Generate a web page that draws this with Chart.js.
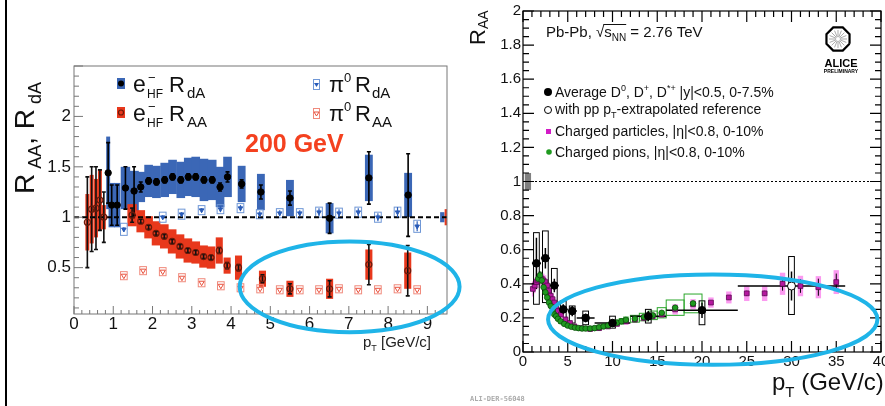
<!DOCTYPE html>
<html><head><meta charset="utf-8">
<script src="https://cdn.jsdelivr.net/npm/chart.js@4.4.0/dist/chart.umd.min.js"></script>
<style>
html,body{margin:0;padding:0;background:#fff;overflow:hidden;width:885px;height:406px}
#left{position:absolute;left:0;top:0}
#right{position:absolute;left:460px;top:0}
</style></head><body>
<canvas id="left" width="462" height="406"></canvas>
<canvas id="right" width="440" height="406"></canvas>
<script>
// ---- left panel: 200 GeV (RHIC) ----
const xTicksL = [0,1,2,3,4,5,6,7,8,9];
const yTicksL = [0.5,1,1.5,2];

// heavy-flavour electrons, d+Au
const eDA_pt   = [0.87,0.96,1.10,1.31,1.53,1.70,1.90,2.10,2.31,2.51,2.72,2.91,3.10,3.31,3.52,3.72,3.91,4.27,4.76,5.50,6.51,7.51,8.51];
const eDA_val  = [1.44,1.12,1.12,1.29,1.26,1.30,1.36,1.35,1.37,1.40,1.37,1.40,1.40,1.37,1.37,1.30,1.40,1.33,1.25,1.19,0.99,1.39,1.22];
const eDA_stat = [0.30,0.20,0.20,0.21,0.24,0.05,0.03,0.03,0.03,0.03,0.03,0.03,0.03,0.03,0.03,0.04,0.05,0.04,0.07,0.07,0.15,0.26,0.41];
const eDA_sys  = [0.36,0.22,0.22,0.21,0.20,0.15,0.16,0.16,0.17,0.17,0.18,0.19,0.20,0.21,0.20,0.20,0.20,0.18,0.18,0.18,0.15,0.23,0.22];
const eDA_hw   = [0.05,0.08,0.08,0.12,0.12,0.11,0.11,0.11,0.11,0.11,0.11,0.11,0.11,0.11,0.11,0.11,0.11,0.10,0.10,0.10,0.10,0.10,0.10];

// heavy-flavour electrons, Au+Au
const eAA_pt   = [0.34,0.45,0.56,0.66,0.76,1.48,1.70,1.90,2.09,2.30,2.50,2.70,2.90,3.10,3.30,3.49,3.70,3.90,4.19,4.80,5.50,6.51,7.51,8.50];
const eAA_val  = [0.95,1.08,1.09,1.17,1.00,1.02,0.96,0.90,0.84,0.81,0.76,0.71,0.67,0.65,0.61,0.60,0.67,0.52,0.50,0.39,0.29,0.29,0.53,0.47];
const eAA_stat = [0.45,0.42,0.41,0.30,0.25,0.07,0.02,0.02,0.02,0.02,0.02,0.02,0.02,0.02,0.02,0.02,0.03,0.03,0.03,0.04,0.05,0.08,0.20,0.25];
const eAA_sys  = [0.28,0.34,0.29,0.30,0.12,0.11,0.11,0.11,0.12,0.12,0.12,0.12,0.12,0.11,0.11,0.11,0.13,0.08,0.12,0.08,0.08,0.10,0.15,0.18];
const eAA_hw   = [0.05,0.05,0.05,0.05,0.05,0.12,0.11,0.11,0.11,0.11,0.11,0.11,0.11,0.11,0.11,0.11,0.09,0.09,0.09,0.09,0.09,0.09,0.09,0.09];

// pi0, d+Au and Au+Au
const piDA_pt   = [1.27,2.26,2.74,3.25,3.73,4.24,4.73,5.24,5.75,6.24,6.75,7.24,7.74,8.24,8.74];
const piDA_val  = [0.88,1.00,1.03,1.07,1.08,1.09,1.03,1.04,1.04,1.05,1.04,1.05,1.00,1.05,0.91];
const piDA_stat = [0.02,0.02,0.02,0.02,0.03,0.03,0.03,0.03,0.03,0.04,0.04,0.04,0.04,0.05,0.05];
const piDA_sys  = [0.06,0.05,0.05,0.045,0.045,0.045,0.045,0.045,0.045,0.05,0.05,0.05,0.05,0.05,0.06];
const piAA_pt   = [1.27,1.76,2.26,2.75,3.25,3.74,4.24,4.74,5.24,5.75,6.24,6.75,7.24,7.74,8.24,8.74];
const piAA_val  = [0.42,0.47,0.46,0.40,0.35,0.32,0.30,0.29,0.28,0.28,0.28,0.29,0.28,0.28,0.29,0.28];
const piAA_sys  = [0.04,0.04,0.04,0.04,0.04,0.04,0.04,0.04,0.04,0.04,0.04,0.04,0.04,0.04,0.04,0.04];

// normalisation boxes at the right edge (d+Au, Au+Au)
const normL_pt  = [9.38,9.47];
const normL_val = [1,1];
const normL_sys = [0.05,0.08];
const normL_hw  = [0.055,0.03];

// ---- right panel: ALICE 2.76 TeV ----
const xTicksR = [0,5,10,15,20,25,30,35,40];
const yTicksR = [0,0.2,0.4,0.6,0.8,1,1.2,1.4,1.6,1.8,2];

const d_pt    = [1.5,2.5,3.5,4.5,5.5,7,10,14,20];
const d_lo    = [1,2,3,4,5,6,8,12,16];
const d_hi    = [2,3,4,5,6,8,12,16,24];
const d_val   = [0.52,0.55,0.39,0.25,0.24,0.20,0.17,0.21,0.245];
const d_stat  = [0.15,0.06,0.04,0.03,0.03,0.025,0.02,0.03,0.045];
const d_sysUp = [0.18,0.16,0.10,0.05,0.03,0.04,0.04,0.04,0.055];
const d_sysDn = [0.24,0.26,0.11,0.06,0.07,0.04,0.03,0.04,0.085];

const dx_pt    = [30];
const dx_lo    = [24];
const dx_hi    = [36];
const dx_val   = [0.387];
const dx_stat  = [0.085];
const dx_sysUp = [0.173];
const dx_sysDn = [0.167];

const ch_pt   = [1.1,1.3,1.5,1.7,1.9,2.1,2.3,2.5,2.7,2.9,3.1,3.3,3.5,3.7,3.9,4.25,4.75,5.25,5.75,6.5,7.5,8.5,9.5,10.5,11.5,12.5,13.5,14.5,15.5,17,19,21,23,25,27,29,31,33,35];
const ch_val  = [0.37,0.39,0.41,0.42,0.43,0.43,0.42,0.41,0.39,0.36,0.33,0.31,0.29,0.26,0.24,0.22,0.19,0.17,0.15,0.14,0.135,0.14,0.15,0.165,0.18,0.19,0.20,0.21,0.22,0.25,0.28,0.29,0.32,0.344,0.344,0.40,0.387,0.38,0.41];
const ch_stat = [0.005,0.005,0.005,0.005,0.005,0.005,0.005,0.005,0.005,0.005,0.005,0.005,0.005,0.005,0.005,0.005,0.005,0.005,0.005,0.005,0.005,0.005,0.005,0.005,0.005,0.005,0.005,0.005,0.005,0.008,0.01,0.01,0.012,0.015,0.015,0.04,0.04,0.05,0.05];
const ch_sys  = [0.045,0.045,0.045,0.045,0.045,0.04,0.04,0.04,0.035,0.035,0.03,0.03,0.03,0.025,0.025,0.02,0.02,0.015,0.015,0.015,0.015,0.015,0.015,0.015,0.02,0.02,0.02,0.02,0.02,0.03,0.03,0.03,0.035,0.045,0.045,0.065,0.06,0.065,0.07];
const ch_hw   = [0.1,0.1,0.1,0.1,0.1,0.1,0.1,0.1,0.1,0.1,0.1,0.1,0.1,0.1,0.1,0.25,0.25,0.25,0.25,0.3,0.3,0.3,0.3,0.3,0.3,0.3,0.3,0.3,0.3,0.3,0.3,0.3,0.3,0.3,0.3,0.3,0.3,0.3,0.3];

const pi_pt  = [1.7,1.9,2.1,2.3,2.5,2.7,2.9,3.1,3.3,3.5,3.7,3.9,4.2,4.6,5.0,5.4,5.8,6.2,6.6,7.0,7.5,8.0,8.5,9.0,9.5,10,10.5,11,11.5,12.5,13.5,14.5,15.5,17,19];
const pi_val = [0.43,0.45,0.42,0.38,0.35,0.32,0.29,0.27,0.24,0.22,0.21,0.195,0.18,0.165,0.155,0.148,0.143,0.14,0.138,0.138,0.138,0.14,0.145,0.15,0.155,0.165,0.172,0.18,0.188,0.195,0.205,0.215,0.23,0.26,0.285];
const pi_sys = [0.02,0.02,0.02,0.018,0.017,0.016,0.015,0.014,0.013,0.012,0.012,0.011,0.011,0.01,0.01,0.01,0.01,0.01,0.01,0.01,0.011,0.011,0.012,0.012,0.013,0.014,0.015,0.016,0.017,0.02,0.022,0.025,0.03,0.045,0.055];
const pi_hw  = [0.1,0.1,0.1,0.1,0.1,0.1,0.1,0.1,0.1,0.1,0.1,0.1,0.2,0.2,0.2,0.2,0.2,0.2,0.2,0.2,0.25,0.25,0.25,0.25,0.25,0.25,0.25,0.25,0.25,0.5,0.5,0.5,0.5,1,1];

const normR_pt = [0.55], normR_val = [1], normR_sys = [0.05], normR_hw = [0.35];

const FONT = "'Liberation Sans', Arial, Helvetica, sans-serif";
const BLUE = '#3b67b6', RED = '#e8381c', CYAN = '#1fb4e8';

function pts(xs, ys) { return xs.map((x, i) => ({x: x, y: ys[i]})); }

// text made of runs: [text, size, dy, bold]
function run(ctx, x, y, parts) {
  parts.forEach(p => {
    ctx.font = (p[3] ? 'bold ' : '') + p[1] + 'px ' + FONT;
    ctx.fillText(p[0], x, y + (p[2] || 0));
    x += ctx.measureText(p[0]).width;
  });
  return x;
}

// systematic boxes, reference line and error bars, drawn under the markers
function layers(cfg) {
  return {
    id: 'layers',
    beforeDatasetsDraw(chart) {
      const {ctx, chartArea: a, scales: {x, y}} = chart;
      ctx.save();
      ctx.beginPath(); ctx.rect(a.left, a.top, a.right - a.left, a.bottom - a.top); ctx.clip();
      cfg.boxes.forEach(g => {
        g.pt.forEach((p, i) => {
          const hw = g.hw[i];
          const x0 = x.getPixelForValue(p - hw), x1 = x.getPixelForValue(p + hw);
          const y0 = y.getPixelForValue(g.val[i] + g.up[i]), y1 = y.getPixelForValue(g.val[i] - g.dn[i]);
          if (g.fill) { ctx.fillStyle = g.fill; ctx.fillRect(x0, y0, x1 - x0, y1 - y0); }
          if (g.stroke) { ctx.strokeStyle = g.stroke; ctx.lineWidth = g.lw || 1; ctx.strokeRect(x0, y0, x1 - x0, y1 - y0); }
        });
      });
      if (cfg.ref) {
        const py = y.getPixelForValue(cfg.ref.y);
        ctx.strokeStyle = '#000'; ctx.lineWidth = cfg.ref.lw; ctx.setLineDash(cfg.ref.dash);
        ctx.beginPath(); ctx.moveTo(a.left, py); ctx.lineTo(a.right, py); ctx.stroke();
        ctx.setLineDash([]);
      }
      cfg.bars.forEach(g => {
        ctx.strokeStyle = g.color; ctx.lineWidth = g.lw;
        g.pt.forEach((p, i) => {
          const px = x.getPixelForValue(p);
          const yt = y.getPixelForValue(g.val[i] + g.err[i]), yb = y.getPixelForValue(g.val[i] - g.err[i]);
          ctx.beginPath();
          ctx.moveTo(px, yt); ctx.lineTo(px, yb);
          if (g.cap) {
            ctx.moveTo(px - g.cap, yt); ctx.lineTo(px + g.cap, yt);
            ctx.moveTo(px - g.cap, yb); ctx.lineTo(px + g.cap, yb);
          }
          if (g.xlo) {
            const py = y.getPixelForValue(g.val[i]);
            ctx.moveTo(x.getPixelForValue(g.xlo[i]), py); ctx.lineTo(x.getPixelForValue(g.xhi[i]), py);
          }
          ctx.stroke();
        });
      });
      ctx.restore();
    }
  };
}

// ROOT-style frame with ticks pointing inwards
function frame(o) {
  return {
    id: 'frame',
    afterDatasetsDraw(chart) {
      const {ctx, chartArea: a, scales: {x, y}} = chart;
      ctx.save();
      ctx.strokeStyle = o.color; ctx.lineWidth = o.lw;
      ctx.strokeRect(a.left, a.top, a.right - a.left, a.bottom - a.top);
      ctx.beginPath();
      for (let k = 0; k * o.xMinor <= x.max + 1e-9; k++) {
        const v = k * o.xMinor;
        if (v < x.min) continue;
        const major = Math.abs(v / o.xMajor - Math.round(v / o.xMajor)) < 1e-6;
        const len = major ? o.xMaj : o.xMin, px = x.getPixelForValue(v);
        ctx.moveTo(px, a.bottom); ctx.lineTo(px, a.bottom - len);
        if (o.mirror) { ctx.moveTo(px, a.top); ctx.lineTo(px, a.top + len); }
      }
      for (let k = 0; k * o.yMinor <= y.max + 1e-9; k++) {
        const v = k * o.yMinor;
        if (v < y.min) continue;
        const major = Math.abs(v / o.yMajor - Math.round(v / o.yMajor)) < 1e-6;
        const len = major ? o.yMaj : o.yMin, py = y.getPixelForValue(v);
        ctx.moveTo(a.left, py); ctx.lineTo(a.left + len, py);
        if (o.mirror) { ctx.moveTo(a.right, py); ctx.lineTo(a.right - len, py); }
      }
      ctx.stroke();
      ctx.restore();
    }
  };
}

function ellipse(chart, e) {
  const {ctx, scales: {x, y}} = chart;
  const cx = x.getPixelForValue(e.x), cy = y.getPixelForValue(e.y);
  const rx = x.getPixelForValue(e.x + e.rx) - cx, ry = cy - y.getPixelForValue(e.y + e.ry);
  ctx.save();
  ctx.strokeStyle = CYAN; ctx.lineWidth = 4;
  ctx.beginPath(); ctx.ellipse(cx, cy, rx, ry, 0, 0, Math.PI * 2); ctx.stroke();
  ctx.restore();
}

function scaleOpts(min, max, ticks, size, pad, fit, fmt) {
  return {
    type: 'linear', min: min, max: max,
    afterBuildTicks: s => { s.ticks = ticks.map(v => ({value: v})); },
    grid: {display: false, drawTicks: false}, border: {display: false},
    ticks: {autoSkip: false, maxRotation: 0, padding: pad, color: '#111',
            font: {family: FONT, size: size}, callback: fmt},
    afterFit: fit
  };
}

// ---------------- left chart ----------------
const leftDeco = {
  id: 'leftDeco',
  afterDraw(chart) {
    const ctx = chart.ctx;
    ctx.save();
    ctx.fillStyle = '#000'; ctx.fillRect(5, 0, 2, 406);
    // legend icons
    ctx.fillStyle = BLUE; ctx.fillRect(117, 78, 8, 11);
    ctx.fillStyle = '#000'; ctx.beginPath(); ctx.arc(121, 83.5, 3, 0, 7); ctx.fill();
    ctx.fillStyle = RED; ctx.fillRect(117, 107, 8, 11);
    ctx.strokeStyle = '#6b1a0a'; ctx.lineWidth = 1.2; ctx.beginPath(); ctx.arc(121, 112.5, 2.5, 0, 7); ctx.stroke();
    ctx.strokeStyle = '#6f97d6'; ctx.lineWidth = 1; ctx.strokeRect(313.5, 79.5, 6, 10);
    ctx.fillStyle = '#2a5cb8'; ctx.beginPath(); ctx.moveTo(314, 83); ctx.lineTo(319, 83); ctx.lineTo(316.5, 87); ctx.fill();
    ctx.strokeStyle = '#f08a7c'; ctx.strokeRect(313.5, 108.5, 6, 10);
    ctx.strokeStyle = '#e8503c'; ctx.beginPath(); ctx.moveTo(314, 112); ctx.lineTo(319, 112); ctx.lineTo(316.5, 116); ctx.closePath(); ctx.stroke();
    // legend text
    ctx.fillStyle = '#111'; ctx.textBaseline = 'alphabetic';
    [[92, 'dA'], [121, 'AA']].forEach(r => {
      run(ctx, 133, r[0], [['e', 23]]);
      run(ctx, 148, r[0], [['\u2212', 13, -10]]);
      run(ctx, 147, r[0], [['HF', 12, 6]]);
      run(ctx, 169, r[0], [['R', 22]]);
      run(ctx, 187, r[0], [[r[1], 15, 6]]);
      run(ctx, 329, r[0], [['\u03c0', 22]]);
      run(ctx, 344, r[0], [['0', 13, -10]]);
      run(ctx, 355, r[0], [['R', 22]]);
      run(ctx, 372, r[0], [[r[1], 15, 6]]);
    });
    // energy label
    ctx.fillStyle = '#f4411f';
    run(ctx, 245, 152, [['200 GeV', 25, 0, true]]);
    // axis titles
    ctx.fillStyle = '#222';
    run(ctx, 363, 347, [['p', 15], ['T', 9, 4], [' [GeV/c]', 15]]);
    ctx.save();
    ctx.translate(34, 194); ctx.rotate(-Math.PI / 2);
    ctx.fillStyle = '#111';
    run(ctx, 0, 0, [['R', 28], [' AA', 18, 7], [',', 28], [' R', 28], [' dA', 18, 7]]);
    ctx.restore();
    ellipse(chart, {x: 7.02, y: 0.31, rx: 2.8, ry: 0.45});
    ctx.restore();
  }
};

new Chart(document.getElementById('left'), {
  type: 'scatter',
  data: {datasets: [
    {data: pts(eDA_pt, eDA_val), pointStyle: 'circle', radius: 3.2, backgroundColor: '#000', borderColor: '#000', borderWidth: 1},
    {data: pts(eAA_pt, eAA_val), pointStyle: 'circle', radius: 3, backgroundColor: 'rgba(0,0,0,0)', borderColor: '#6b1a0a', borderWidth: 1.2},
    {data: pts(piDA_pt, piDA_val), pointStyle: 'triangle', rotation: 180, radius: 2.6, backgroundColor: '#2a5cb8', borderColor: '#2a5cb8', borderWidth: 1},
    {data: pts(piAA_pt, piAA_val), pointStyle: 'triangle', rotation: 180, radius: 3, backgroundColor: 'rgba(0,0,0,0)', borderColor: '#e8503c', borderWidth: 1}
  ]},
  options: {
    responsive: false, animation: false, events: [],
    layout: {padding: {left: 0, right: 15, top: 66, bottom: 0}},
    plugins: {legend: {display: false}, tooltip: {enabled: false}},
    scales: {
      x: scaleOpts(0, 9.5, xTicksL, 17, 0, s => { s.height = 92; }, v => String(v)),
      y: scaleOpts(0.04, 2.5, yTicksL, 17, 3, s => { s.width = 74; }, v => String(v))
    }
  },
  plugins: [
    layers({
      boxes: [
        {pt: eDA_pt, val: eDA_val, up: eDA_sys, dn: eDA_sys, hw: eDA_hw, fill: BLUE},
        {pt: eAA_pt, val: eAA_val, up: eAA_sys, dn: eAA_sys, hw: eAA_hw, fill: RED},
        {pt: normL_pt.slice(0, 1), val: normL_val, up: normL_sys, dn: normL_sys, hw: normL_hw, fill: BLUE},
        {pt: normL_pt.slice(1), val: normL_val.slice(1), up: normL_sys.slice(1), dn: normL_sys.slice(1), hw: normL_hw.slice(1), fill: RED},
        {pt: piDA_pt, val: piDA_val, up: piDA_sys, dn: piDA_sys, hw: piDA_pt.map(() => 0.085), stroke: '#6f97d6', lw: 1},
        {pt: piAA_pt, val: piAA_val, up: piAA_sys, dn: piAA_sys, hw: piAA_pt.map(() => 0.085), stroke: '#f08a7c', lw: 1}
      ],
      ref: {y: 1, lw: 2, dash: [5, 3]},
      bars: [
        {pt: eDA_pt, val: eDA_val, err: eDA_stat, color: '#000', lw: 1.6, cap: 2},
        {pt: eAA_pt, val: eAA_val, err: eAA_stat, color: '#111', lw: 1.6, cap: 2},
        {pt: piDA_pt, val: piDA_val, err: piDA_stat, color: '#2a5cb8', lw: 1.2}
      ]
    }),
    frame({color: '#777', lw: 1, xMinor: 0.2, xMajor: 1, yMinor: 0.1, yMajor: 0.5, xMaj: 8, xMin: 4, yMaj: 9, yMin: 5, mirror: false}),
    leftDeco
  ]
});

// ---------------- right chart ----------------
const rightDeco = {
  id: 'rightDeco',
  afterDraw(chart) {
    const ctx = chart.ctx;
    ctx.save();
    ctx.fillStyle = '#111'; ctx.textBaseline = 'alphabetic';
    // collision label
    let x = run(ctx, 86, 37, [['Pb-Pb, ', 15], ['\u221a', 15]]);
    const sx = x;
    x = run(ctx, x, 37, [['s', 15], ['NN', 10, 4]]);
    ctx.strokeStyle = '#111'; ctx.lineWidth = 1;
    ctx.beginPath(); ctx.moveTo(sx - 1, 24.5); ctx.lineTo(x, 24.5); ctx.stroke();
    run(ctx, x, 37, [[' = 2.76 TeV', 15]]);
    // legend
    ctx.fillStyle = '#000'; ctx.beginPath(); ctx.arc(88, 92, 4, 0, 7); ctx.fill();
    ctx.strokeStyle = '#000'; ctx.lineWidth = 1; ctx.beginPath(); ctx.arc(88, 110, 3.5, 0, 7); ctx.stroke();
    ctx.fillStyle = '#d21bc6'; ctx.fillRect(86, 129, 5, 5);
    ctx.fillStyle = '#1f9a1f'; ctx.beginPath(); ctx.arc(89, 152, 2.8, 0, 7); ctx.fill();
    ctx.fillStyle = '#111';
    run(ctx, 95, 97, [['Average D', 14], ['0', 9, -6], [', D', 14], ['+', 9, -6], [', D', 14], ['*+', 9, -6], [' |y|<0.5, 0-7.5%', 14]]);
    run(ctx, 95, 114, [['with pp p', 14], ['T', 9, 4], ['-extrapolated reference', 14]]);
    run(ctx, 95, 136, [['Charged particles, |\u03b7|<0.8, 0-10%', 14]]);
    run(ctx, 95, 157, [['Charged pions, |\u03b7|<0.8, 0-10%', 14]]);
    // ALICE logo
    const cx = 378, cy = 39, r = 12.5;
    ctx.strokeStyle = '#000'; ctx.lineWidth = 2.2; ctx.beginPath();
    for (let k = 0; k <= 8; k++) {
      const t = Math.PI / 8 + k * Math.PI / 4;
      const px = cx + r * Math.cos(t), py = cy + r * Math.sin(t);
      if (k) ctx.lineTo(px, py); else ctx.moveTo(px, py);
    }
    ctx.stroke();
    ctx.strokeStyle = '#888'; ctx.lineWidth = 0.7; ctx.beginPath();
    for (let k = 0; k < 16; k++) {
      const t = k * Math.PI / 8;
      ctx.moveTo(cx + 2 * Math.cos(t), cy + 2 * Math.sin(t)); ctx.lineTo(cx + 9 * Math.cos(t), cy + 9 * Math.sin(t));
    }
    ctx.stroke();
    ctx.fillStyle = '#000'; ctx.textAlign = 'center';
    ctx.font = 'bold 11px ' + FONT; ctx.fillText('ALICE', 381, 67);
    ctx.font = 'bold 5px ' + FONT; ctx.fillText('PRELIMINARY', 381, 73);
    ctx.textAlign = 'left';
    // axis titles
    ctx.fillStyle = '#111';
    run(ctx, 312, 390, [['p', 24], ['T', 15, 7], [' (GeV/c)', 24]]);
    ctx.save();
    ctx.translate(25, 45); ctx.rotate(-Math.PI / 2);
    run(ctx, 0, 0, [['R', 22], ['AA', 14, 3]]);
    ctx.restore();
    ctx.fillStyle = '#aaa'; ctx.font = 'bold 7px "DejaVu Sans Mono", monospace';
    ctx.fillText('ALI-DER-56048', 10, 401);
    ellipse(chart, {x: 21.2, y: 0.19, rx: 18.4, ry: 0.265});
    ctx.restore();
  }
};

new Chart(document.getElementById('right'), {
  type: 'scatter',
  data: {datasets: [
    {data: pts(d_pt, d_val), pointStyle: 'circle', radius: 3.8, backgroundColor: '#000', borderColor: '#000', borderWidth: 1},
    {data: pts(dx_pt, dx_val), pointStyle: 'circle', radius: 4, backgroundColor: '#fff', borderColor: '#000', borderWidth: 1},
    {data: pts(pi_pt, pi_val), pointStyle: 'circle', radius: 2.8, backgroundColor: '#1f9a1f', borderColor: '#0d4d0d', borderWidth: 0.8},
    {data: pts(ch_pt, ch_val), pointStyle: 'rect', radius: 3.4, backgroundColor: '#b5179f', borderColor: '#5a0a50', borderWidth: 0.8}
  ]},
  options: {
    responsive: false, animation: false, events: [],
    layout: {padding: {left: 0, right: 19, top: 11, bottom: 0}},
    plugins: {legend: {display: false}, tooltip: {enabled: false}},
    scales: {
      x: scaleOpts(0, 40, xTicksR, 15, 1, s => { s.height = 54; }, v => String(v)),
      y: scaleOpts(0, 2, yTicksR, 15, 2, s => { s.width = 63; }, v => String(Math.round(v * 10) / 10))
    }
  },
  plugins: [
    layers({
      boxes: [
        {pt: normR_pt, val: normR_val, up: normR_sys, dn: normR_sys, hw: normR_hw, fill: '#808080'},
        {pt: ch_pt, val: ch_val, up: ch_sys, dn: ch_sys, hw: ch_hw, fill: 'rgba(250,120,235,0.75)'},
        {pt: pi_pt, val: pi_val, up: pi_sys, dn: pi_sys, hw: pi_hw, stroke: '#2aa62a', lw: 1},
        {pt: d_pt, val: d_val, up: d_sysUp, dn: d_sysDn, hw: d_pt.map(() => 0.32), stroke: '#000', lw: 1},
        {pt: dx_pt, val: dx_val, up: dx_sysUp, dn: dx_sysDn, hw: [0.32], stroke: '#000', lw: 1}
      ],
      ref: {y: 1, lw: 1, dash: [2, 2]},
      bars: [
        {pt: ch_pt, val: ch_val, err: ch_stat, color: '#000', lw: 1},
        {pt: d_pt, val: d_val, err: d_stat, xlo: d_lo, xhi: d_hi, color: '#000', lw: 1.5},
        {pt: dx_pt, val: dx_val, err: dx_stat, xlo: dx_lo, xhi: dx_hi, color: '#000', lw: 1.5}
      ]
    }),
    frame({color: '#000', lw: 1.2, xMinor: 1, xMajor: 5, yMinor: 0.05, yMajor: 0.2, xMaj: 11, xMin: 6, yMaj: 11, yMin: 6, mirror: true}),
    rightDeco
  ]
});
</script>
</body></html>
